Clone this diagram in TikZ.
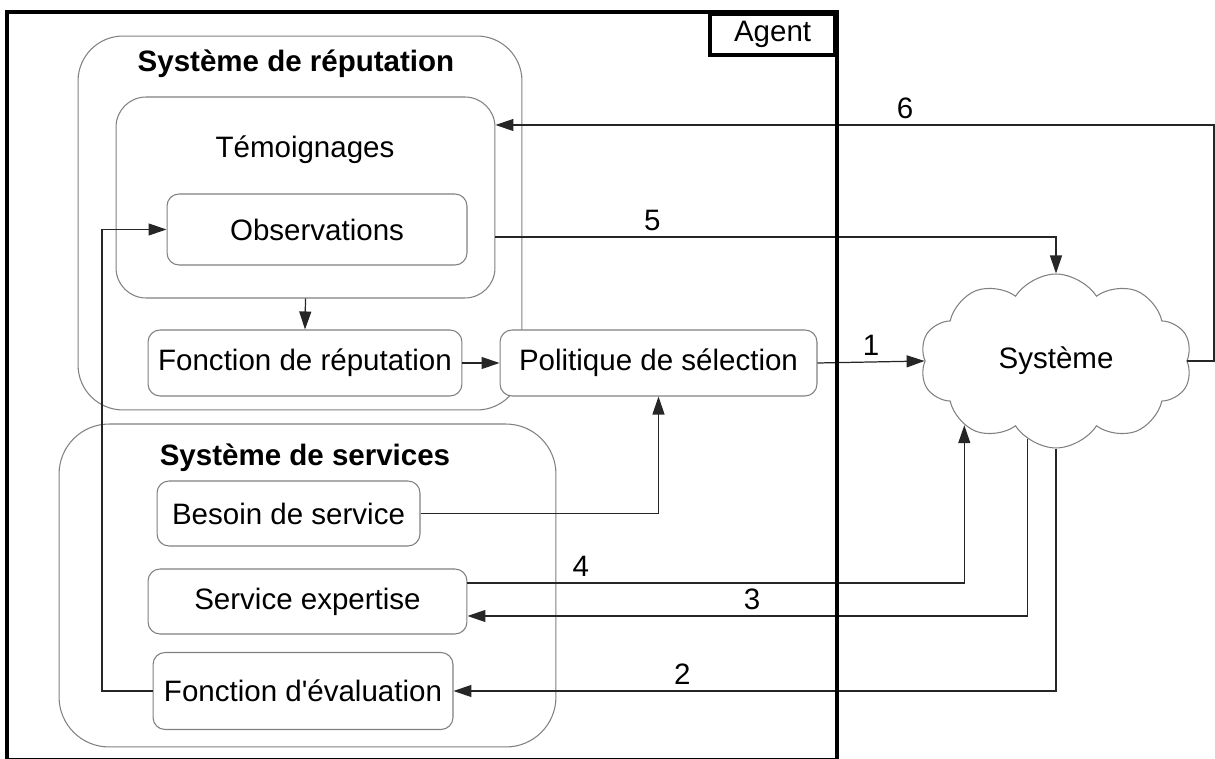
\documentclass[tikz,border=0pt]{standalone}
\usepackage{fontspec}
\setmainfont{Liberation Sans}
\usetikzlibrary{shapes.symbols}
\usetikzlibrary{arrows.meta}

\newcommand{\lbl}{\fontsize{16.8}{20}\selectfont}

\begin{document}
\begin{tikzpicture}[x=0.02cm, y=-0.02cm,
    every node/.style={font=\lbl},
    box/.style={draw=black!50, line width=0.6pt, fill=white, rounded corners=0.24cm, inner sep=0pt},
    group/.style={draw=black!50, line width=0.6pt, rounded corners=0.9cm, inner sep=0pt},
    link/.style={draw=black!85, line width=0.7pt, -{Triangle[length=0.36cm, width=0.24cm]}}]

    \useasboundingbox (0,0) rectangle (1215,759);

    \node[group, minimum width=8.88cm, minimum height=7.48cm] (rep) at (300,223) {};
    \node[font=\lbl\bfseries] (reptitle) at (296,64) {Système de réputation};

    \node[group, rounded corners=0.6cm, minimum width=7.58cm, minimum height=4.02cm] (tem) at (305.5,197.5) {};
    \node (temtitle) at (305,150) {Témoignages};
    \node[box, minimum width=6cm, minimum height=1.42cm] (obs) at (317,229.5) {Observations};

    \node[box, minimum width=6.28cm, minimum height=1.32cm] (frep) at (305,363) {Fonction de réputation};
    \node[box, minimum width=6.34cm, minimum height=1.32cm] (pol) at (658.5,363) {Politique de sélection};

    \node[group, rounded corners=1cm, minimum width=9.94cm, minimum height=6.46cm] (svc) at (307.5,585.5) {};
    \node[font=\lbl\bfseries] (svctitle) at (305,458) {Système de services};
    \node[box, minimum width=5.26cm, minimum height=1.3cm] (bes) at (288.5,513.5) {Besoin de service};
    \node[box, minimum width=6.38cm, minimum height=1.3cm] (sexp) at (307.5,601.5) {Service expertise};
    \node[box, minimum width=6cm, minimum height=1.54cm] (feval) at (303,691) {Fonction d\textquotesingle évaluation};

    \node[cloud, draw=black!50, line width=0.6pt, cloud puffs=10, cloud puff arc=115, aspect=1.6,
        minimum width=5.44cm, minimum height=3.48cm, inner sep=0pt] (sys) at (1056,361) {Système};

    \coordinate (six) at (1214,125);
    \coordinate (back) at (102,229.5);

    \draw[link] (tem.south) -- (frep.north);
    \draw[link] (frep.east) -- (pol.west);
    \draw[link] (bes.east) -| (pol.south);
    \draw[link] (feval.west) -| (back) -- (obs.west);

    \draw[link] (pol.east) -- (sys.west) node[midway, above] (n1) {1};
    \draw[link] (sys.south) |- (feval.east) node[pos=0.81, above] (n2) {2};
    \draw[link] (sys.-110) |- ([yshift=-0.29cm]sexp.east) node[pos=0.746, above] (n3) {3};
    \draw[link] ([yshift=0.37cm]sexp.east) -| (sys.215) node[pos=0.114, above] (n4) {4};
    \draw[link] ([yshift=-0.79cm]tem.east) -| (sys.north) node[pos=0.14, above] (n5) {5};
    \draw[link] (sys.east) -| (six) -- (tem.east |- six) node[pos=0.43, above] (n6) {6};

    % agent frame
    \draw[line width=2.2pt] (7,12) rectangle (837,760);
    \node[draw, line width=2.2pt, minimum width=2.5cm, minimum height=0.82cm, inner sep=0pt, anchor=north east] (agent) at (837,12) {Agent};

\end{tikzpicture}
\end{document}
